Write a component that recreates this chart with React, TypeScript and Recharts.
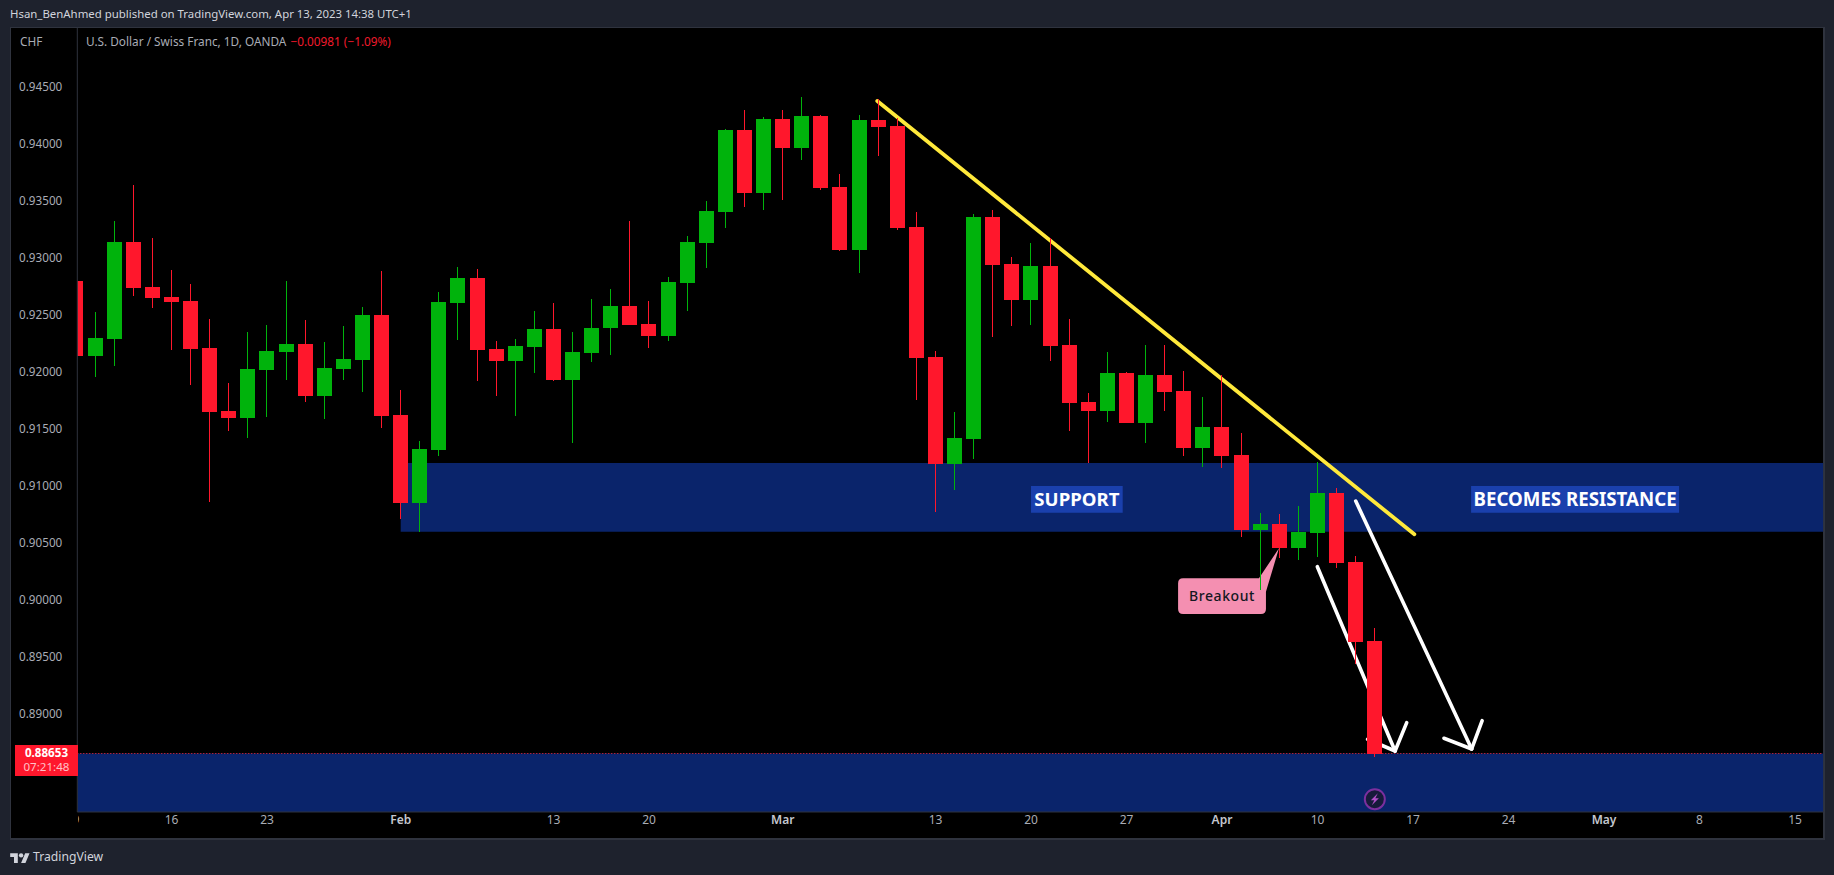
import React from 'react';
import { ComposedChart, Bar, XAxis, YAxis, ReferenceArea, ReferenceLine, ReferenceDot } from 'recharts';

const opens = [.92793,.92136,.92283,.93135,.9274,.92651,.92617,.92204,.91652,.91593,.92014,.92172,.92239,.91785,.9202,.92102,.92493,.91616,.90847,.91312,.926,.92818,.92195,.9209,.92213,.92371,.91924,.9216,.9238,.92573,.92415,.9231,.92775,.93126,.93397,.94117,.93564,.94213,.93959,.9424,.93617,.93064,.94205,.94152,.93266,.92125,.91187,.91406,.93353,.92941,.92625,.92924,.92231,.91731,.91652,.91985,.91546,.91967,.91827,.91327,.91511,.91266,.90608,.9066,.9045,.90581,.90932,.90327,.89634];
const highs = [.92793,.9252,.93319,.93634,.9317,.92889,.92766,.92458,.91897,.92344,.92406,.92793,.9245,.92257,.92397,.92564,.9288,.91836,.91388,.92696,.92915,.92897,.92266,.92283,.92529,.926,.92344,.92634,.92722,.93319,.92617,.92827,.93187,.93494,.94125,.94292,.94231,.94292,.94406,.94248,.93731,.94248,.94389,.94222,.93397,.92178,.91643,.9338,.93415,.93003,.93126,.9317,.92458,.9181,.92169,.91994,.92231,.92231,.92003,.91774,.91967,.91459,.90757,.90748,.90818,.91205,.90976,.9038,.89749];
const lows = [.92136,.9195,.92049,.9266,.92557,.92189,.91882,.90856,.91479,.91417,.91601,.91927,.91733,.91584,.91927,.91821,.91505,.90707,.90593,.9126,.92274,.91915,.91783,.91608,.91985,.91915,.91371,.92081,.92143,.92406,.92204,.92266,.92529,.92906,.93257,.93441,.93415,.93503,.93854,.9359,.93055,.92862,.93889,.93239,.91748,.90766,.90959,.91231,.92301,.92397,.92406,.9209,.91476,.91196,.91555,.91546,.91371,.91652,.91257,.9116,.91152,.90546,.90082,.90362,.90345,.90371,.90275,.89432,.88617];
const closes = [.92136,.92292,.93135,.92734,.92645,.9261,.92198,.91645,.91593,.9202,.92178,.92239,.91785,.92027,.92106,.92493,.9161,.90847,.91318,.92608,.92818,.92187,.9209,.92222,.92371,.91924,.92169,.9238,.92573,.92406,.9231,.92783,.93135,.93406,.94117,.93564,.94213,.93959,.9424,.93608,.93064,.94205,.94144,.93257,.92117,.91187,.91415,.93353,.92932,.92625,.92924,.92222,.91722,.91652,.91985,.91546,.91967,.91818,.91327,.91511,.91257,.90608,.9066,.9045,.9059,.90932,.90319,.89625,.88643];

const priceTicks = [.945,.94,.935,.93,.925,.92,.915,.91,.905,.9,.895,.89];
const timeTickIndex = [0,5,10,17,25,30,37,45,50,55,60,65,70,75,80,85,90];
const timeTickLabels = ['9','16','23','Feb','13','20','Mar','13','20','27','Apr','10','17','24','May','8','15'];
const monthLabels = ['Feb','Mar','Apr','May'];

const lastPrice = 0.88647;
const xDomain: [number, number] = [0.068, 91.48];
const yDomain: [number, number] = [0.88134, 0.950114];

const trendLine = [{ x: 41.95, y: 0.94371 }, { x: 70.07, y: 0.9057 }];
const arrowOne = [
  [{ x: 64.99, y: 0.90286 }, { x: 69.06, y: 0.88669 }],
  [{ x: 67.62, y: 0.88772 }, { x: 69.06, y: 0.88669 }],
  [{ x: 69.67, y: 0.88918 }, { x: 69.06, y: 0.88669 }],
];
const arrowTwo = [
  [{ x: 67.0, y: 0.90862 }, { x: 73.07, y: 0.88687 }],
  [{ x: 71.62, y: 0.88781 }, { x: 73.07, y: 0.88687 }],
  [{ x: 73.62, y: 0.88935 }, { x: 73.07, y: 0.88687 }],
];

const candles = opens.map((open, i) => ({
  i, open, high: highs[i], low: lows[i], close: closes[i], range: [lows[i], highs[i]],
}));

const UP = '#00b30c';
const DOWN = '#ff172c';
const ZONE = '#0a246b';
const LABEL_BG = '#1a40ad';
const FONT = '"Noto Sans", sans-serif';

const Candle = (props: any) => {
  const { x, y, width, height, payload } = props;
  const perUnit = height / (payload.high - payload.low);
  const top = Math.round(y + (payload.high - Math.max(payload.open, payload.close)) * perUnit);
  const bottom = Math.round(y + (payload.high - Math.min(payload.open, payload.close)) * perUnit);
  const color = payload.close >= payload.open ? UP : DOWN;
  const left = Math.round(x);
  return (
    <g>
      <rect x={left + 7} y={Math.round(y)} width={1} height={Math.round(height)} fill={color} />
      <rect x={left} y={top} width={15} height={Math.max(1, bottom - top)} fill={color} />
    </g>
  );
};

const TimeTick = (props: any) => {
  const { x, y, payload } = props;
  const label = timeTickLabels[timeTickIndex.indexOf(payload.value)];
  const month = monthLabels.includes(label);
  const text = (
    <text x={x} y={y + 4} textAnchor="middle" fontFamily={FONT} fontSize={12} fill={month ? '#c4c7cf' : '#a9acb5'} fontWeight={month ? 600 : 400}>
      {label}
    </text>
  );
  if (payload.value !== 0) return text;
  return (
    <g>
      <defs><clipPath id="firstTick"><rect x={x + 2} y={y - 12} width={10} height={24} /></clipPath></defs>
      <g clipPath="url(#firstTick)">{text}</g>
    </g>
  );
};

const Callout = (props: any) => {
  const { x, y, width, height } = props;
  const d = `M${x + 5} ${y} H${x + width * 0.92} L${x + width * 1.148} ${y - height * 0.84} L${x + width} ${y + height * 0.38} V${y + height - 5} Q${x + width} ${y + height} ${x + width - 5} ${y + height} H${x + 5} Q${x} ${y + height} ${x} ${y + height - 5} V${y + 5} Q${x} ${y} ${x + 5} ${y} Z`;
  return (
    <g>
      <path d={d} fill="#f48fb1" />
      <text x={x + width / 2} y={y + height / 2 + 5} textAnchor="middle" fontFamily={FONT} fontSize={14} fontWeight={500} letterSpacing={0.6} fill="#131722">Breakout</text>
    </g>
  );
};

const Flash = (props: any) => {
  const { cx, cy } = props;
  return (
    <g>
      <circle cx={cx} cy={cy} r={10} fill="#161a3a" stroke="#7b2f9e" strokeWidth={2} />
      <path d={`M${cx + 3} ${cy - 6} L${cx - 4} ${cy + 1} H${cx - 0.5} L${cx - 3} ${cy + 6} L${cx + 4} ${cy - 1} H${cx + 0.5} Z`} fill="#b04fc9" />
    </g>
  );
};

const abs = (s: React.CSSProperties): React.CSSProperties => ({ position: 'absolute', whiteSpace: 'nowrap', fontFamily: FONT, ...s });

export default function App() {
  return (
    <div style={{ position: 'fixed', left: 0, top: 0, width: 1834, height: 875, background: '#1e222d', overflow: 'hidden' }}>
      <div style={abs({ left: 10, top: 27, width: 1815, height: 813, background: '#000', boxSizing: 'border-box', borderStyle: 'solid', borderColor: '#2f333e', borderWidth: '1px 2px 2px 1px' })} />
      <div style={abs({ left: 10, top: 6, fontSize: 11.42, color: '#d1d4dc' })}>Hsan_BenAhmed published on TradingView.com, Apr 13, 2023 14:38 UTC+1</div>

      <div style={{ position: 'absolute', left: 0, top: 0 }}>
        <ComposedChart width={1834} height={875} data={candles} margin={{ top: 28, right: 10.7, bottom: 36, left: 0 }}>
          <XAxis
            dataKey="i" type="number" domain={xDomain} allowDataOverflow ticks={timeTickIndex} interval={0}
            tick={<TimeTick />} tickLine={false} height={27} axisLine={{ stroke: '#2f333e' }}
          />
          <YAxis
            type="number" domain={yDomain} allowDataOverflow ticks={priceTicks} interval={0} width={77.3}
            tickFormatter={(v: number) => v.toFixed(5)} tickLine={false} tickMargin={9}
            tick={{ fill: '#a9acb5', fontSize: 11.7, fontFamily: FONT, dy: 1 }} axisLine={{ stroke: '#2f333e' }}
          />
          <ReferenceArea x1={17} x2={xDomain[1]} y1={0.90593} y2={0.91196} fill={ZONE} fillOpacity={1} ifOverflow="hidden" />
          <ReferenceArea x1={xDomain[0]} x2={xDomain[1]} y1={yDomain[0]} y2={lastPrice} fill={ZONE} fillOpacity={1} ifOverflow="hidden" />
          <ReferenceArea
            x1={50} x2={54.8} y1={0.9076} y2={0.90994} fill={LABEL_BG} fillOpacity={1}
            label={{ value: 'SUPPORT', fill: '#ffffff', fontSize: 18.6, fontWeight: 700, fontFamily: FONT, position: 'center' }}
          />
          <ReferenceArea
            x1={73.04} x2={83.93} y1={0.9076} y2={0.90994} fill={LABEL_BG} fillOpacity={1}
            label={{ value: 'BECOMES RESISTANCE', fill: '#ffffff', fontSize: 18.7, fontWeight: 700, fontFamily: FONT, position: 'center' }}
          />
          <ReferenceArea x1={57.7} x2={62.3} y1={0.89871} y2={0.90184} shape={<Callout />} zIndex={150} />
          <ReferenceLine segment={trendLine} stroke="#ffe93b" strokeWidth={3.8} strokeLinecap="round" zIndex={150} />
          {[...arrowOne, ...arrowTwo].map((seg, k) => (
            <ReferenceLine key={k} segment={seg} stroke="#ffffff" strokeWidth={3.6} strokeLinecap="round" zIndex={150} />
          ))}
          <ReferenceLine y={lastPrice} stroke="#ff2a3c" strokeWidth={1} strokeDasharray="1 2" zIndex={150} />
          <Bar dataKey="range" barSize={15} shape={<Candle />} isAnimationActive={false} />
          <ReferenceDot x={68} y={0.88246} shape={<Flash />} />
        </ComposedChart>
      </div>

      <div style={abs({ left: 20, top: 33, fontSize: 11.8, color: '#a9acb5' })}>CHF</div>
      <div style={abs({ left: 86, top: 33, fontSize: 11.8, color: '#a9acb5' })}>
        U.S. Dollar / Swiss Franc, 1D, OANDA <span style={{ color: '#f01a2c', marginLeft: 1 }}>−0.00981 (−1.09%)</span>
      </div>
      <div style={abs({ left: 15, top: 745, width: 63, height: 31, background: DOWN, textAlign: 'center', fontSize: 11.6, lineHeight: '14px', paddingTop: 1, boxSizing: 'border-box' })}>
        <div style={{ color: '#ffffff', fontWeight: 700 }}>0.88653</div>
        <div style={{ color: '#ffc2c8' }}>07:21:48</div>
      </div>
      <svg style={{ position: 'absolute', left: 10, top: 851 }} width={20} height={12} viewBox="0 0 36 22">
        <path d="M14 22H7V11H0V4h14v18zM28 22h-8l7.5-18h8L28 22z" fill="#d1d4dc" />
        <circle cx="20" cy="8" r="4" fill="#d1d4dc" />
      </svg>
      <div style={abs({ left: 33, top: 848, fontSize: 12.2, color: '#d1d4dc' })}>TradingView</div>
    </div>
  );
}
